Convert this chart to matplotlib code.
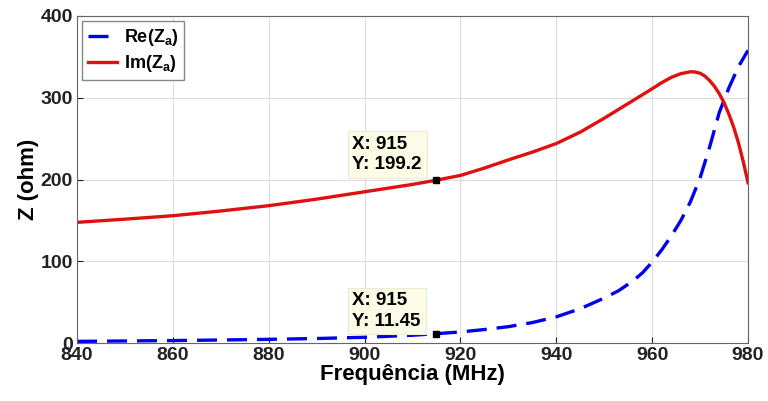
import matplotlib.pyplot as plt

plt.rcParams['font.family'] = ['Liberation Sans', 'DejaVu Sans']
plt.rcParams['font.weight'] = 'bold'

re_freq = [840, 850, 860, 870, 880, 890, 900, 910, 915, 920, 925, 930, 935,
           940, 945, 950, 953, 956, 958, 960, 962, 964, 966, 968, 970, 972,
           974, 976, 978, 980]
re_vals = [2, 2.5, 3, 3.7, 4.5, 5.5, 7, 9.5, 11.45, 13.5, 16.5, 20, 25,
           32, 42, 55, 64, 76, 86, 99, 114, 131, 150, 173, 202, 240,
           282, 312, 338, 358]

im_freq = [840, 850, 860, 870, 880, 890, 900, 910, 915, 920, 925, 930, 935,
           940, 945, 950, 955, 960, 962, 964, 966, 968, 969, 970, 971, 972,
           973, 974, 975, 976, 977, 978, 979, 980]
im_vals = [147.6, 151.5, 155.7, 161.5, 168, 176, 185, 194, 199.2, 205, 214, 224, 233.5,
           244, 258, 275, 293, 311, 318.5, 325, 329.5, 331.8, 331.5, 330, 326.5, 321,
           314, 305, 294, 280, 264, 245, 222, 196]

tips = [(915, 199.2, 7), (915, 11.45, 4)]

xticks = [840, 860, 880, 900, 920, 940, 960, 980]
yticks = [0, 100, 200, 300, 400]

fig = plt.figure(figsize=(7.68, 4.01), dpi=100)
ax = fig.add_axes([0.1003, 0.1446, 0.8737, 0.8155])

ax.plot(re_freq, re_vals, color='#0000ee', lw=2.4, dashes=[6, 3],
        label='Re(Z$_\\mathregular{a}$)')
ax.plot(im_freq, im_vals, color='#e01010', lw=2.4,
        label='Im(Z$_\\mathregular{a}$)')

for x, y, dy in tips:
    ax.plot([x], [y], 's', color='black', ms=4, zorder=5)
    ax.annotate('X: %g\nY: %g' % (x, y), xy=(x, y), xytext=(-84, dy),
                textcoords='offset pixels', fontsize=13.5, fontweight='bold',
                ha='left', va='bottom', linespacing=1.25,
                bbox=dict(boxstyle='square,pad=0.25', fc='#fbfbe6', ec='#ececd6', lw=0.8))

ax.set_xlim(840, 980)
ax.set_ylim(0, 400)
ax.set_xticks(xticks)
ax.set_yticks(yticks)
ax.grid(True, color='#dddddd', lw=0.8)
ax.set_axisbelow(True)
ax.tick_params(direction='in', length=4, labelsize=14, colors='#222222', pad=3)
ax.tick_params(axis='x', pad=3)
for lab in ax.get_xticklabels() + ax.get_yticklabels():
    lab.set_fontweight('bold')
for s in ax.spines.values():
    s.set_color('#666666')

ax.set_xlabel('Frequência (MHz)', fontsize=16, fontweight='bold', labelpad=0)
ax.set_ylabel('Z (ohm)', fontsize=16, fontweight='bold', labelpad=1)

leg = ax.legend(loc='upper left', fontsize=13, handlelength=1.6, handletextpad=0.4,
                borderaxespad=0.3, borderpad=0.3, labelspacing=0.3,
                fancybox=False, edgecolor='#888888', framealpha=1)
for t in leg.get_texts():
    t.set_fontweight('bold')

fig.savefig('out.png', dpi=100)
